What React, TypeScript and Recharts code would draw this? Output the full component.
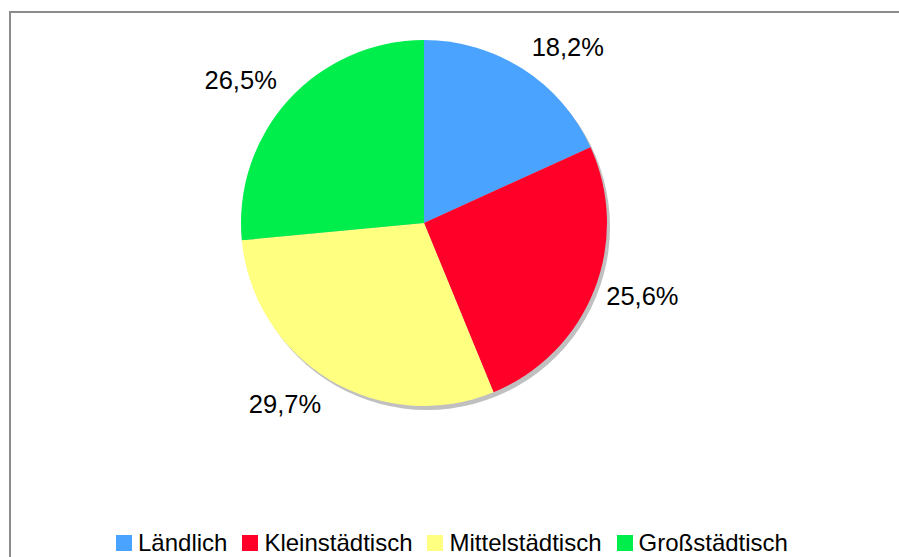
import { PieChart, Pie, Cell, Legend } from 'recharts';

const CATEGORIES = ['Ländlich', 'Kleinstädtisch', 'Mittelstädtisch', 'Großstädtisch'];
const SHARES = [18.2, 25.6, 29.7, 26.5];
const COLORS = ['#4aa3ff', '#ff0029', '#ffff80', '#00ee4c'];

const FONT = '"Liberation Sans", Arial, sans-serif';
const RAD = Math.PI / 180;
const LABEL_SIZE = 25.5;

const data = CATEGORIES.map((name, i) => ({ name, value: SHARES[i] }));
const shadow = [{ name: 'shadow', value: SHARES.reduce((a, b) => a + b, 0) }];

const fmt = (v: number) => v.toFixed(1).replace('.', ',') + '%';

// labels sit outside the pie, aligned away from the centre (like the office chart)
function renderLabel(props: any) {
  const { cx, cy, midAngle, value } = props;
  const cos = Math.cos(-midAngle * RAD);
  const sin = Math.sin(-midAngle * RAD);
  const flat = Math.abs(sin) < 0.4;
  const r = flat ? 196 : 199;
  const x = cx + r * cos;
  const y = cy + r * sin;
  const cap = LABEL_SIZE * 0.76;
  const baseline = flat ? y + cap / 2 : sin < 0 ? y : y + cap;
  return (
    <text x={x} y={baseline} textAnchor={cos >= 0 ? 'start' : 'end'} fill="#000" fontSize={LABEL_SIZE} fontFamily={FONT}>
      {fmt(value)}
    </text>
  );
}

function renderLegend() {
  return (
    <div style={{ display: 'flex', alignItems: 'center', fontFamily: FONT, fontSize: 24, color: '#000' }}>
      {CATEGORIES.map((c, i) => (
        <div key={c} style={{ display: 'flex', alignItems: 'center', marginRight: 15 }}>
          <span style={{ width: 16, height: 16, background: COLORS[i], marginRight: 6, display: 'inline-block' }} />
          <span>{c}</span>
        </div>
      ))}
    </div>
  );
}

export default function App() {
  return (
    <div style={{ position: 'absolute', left: 0, top: 0, width: 899, height: 557, background: '#fff', overflow: 'hidden' }}>
      <div style={{ position: 'absolute', left: 9, top: 11, width: 1000, height: 1000, border: '2px solid #8c8c8c' }} />
      <PieChart width={899} height={557} margin={{ top: 0, right: 0, bottom: 0, left: 0 }}>
        <Pie
          data={shadow}
          dataKey="value"
          cx={427}
          cy={227}
          outerRadius={183}
          startAngle={90}
          endAngle={-270}
          stroke="none"
          fill="#c0c0c0"
          isAnimationActive={false}
          legendType="none"
        />
        <Pie
          data={data}
          dataKey="value"
          nameKey="name"
          cx={424}
          cy={223}
          outerRadius={183}
          startAngle={90}
          endAngle={-270}
          stroke="none"
          label={renderLabel}
          labelLine={false}
          isAnimationActive={false}
        >
          {data.map((d, i) => (
            <Cell key={d.name} fill={COLORS[i]} />
          ))}
        </Pie>
        <Legend
          content={renderLegend}
          wrapperStyle={{ position: 'absolute', left: 116, top: 529, width: 'auto' }}
        />
      </PieChart>
    </div>
  );
}
